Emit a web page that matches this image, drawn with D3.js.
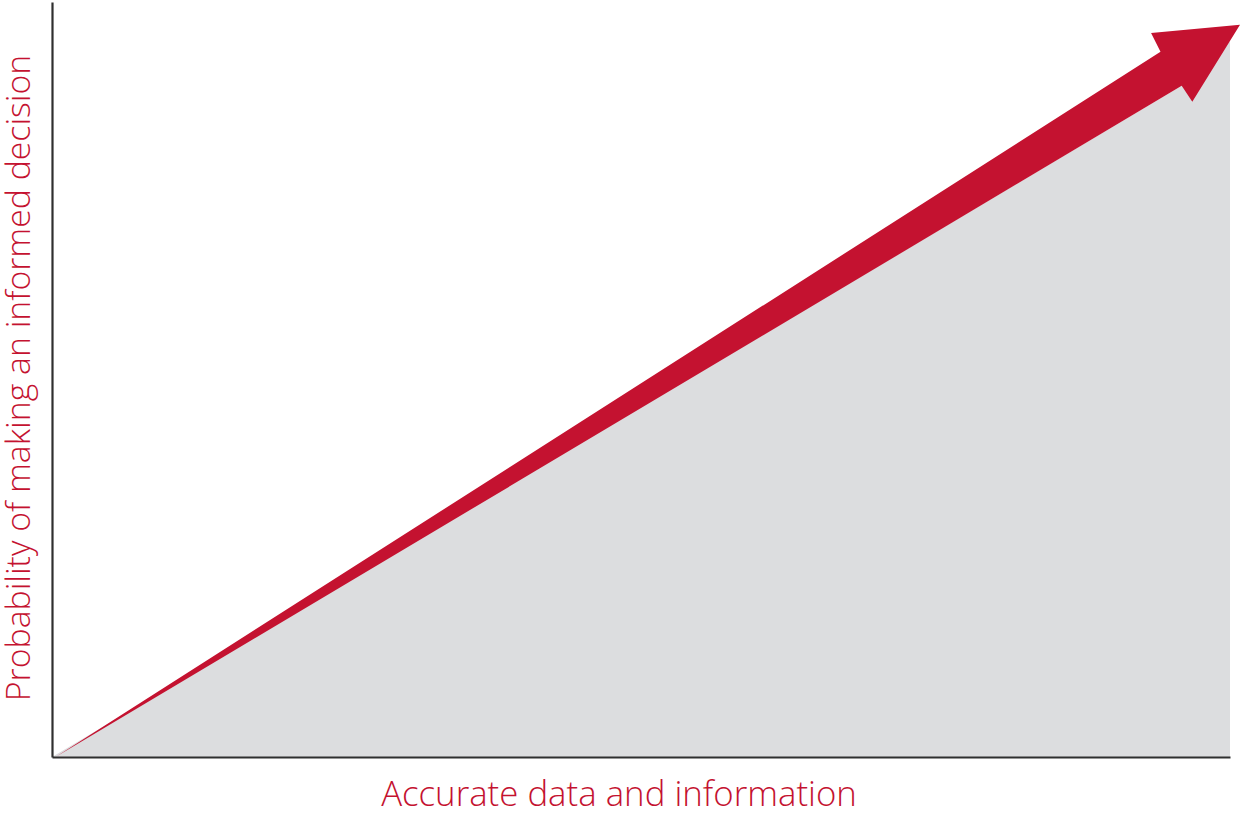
<!DOCTYPE html>
<html>
<head>
<meta charset="utf-8">
<script src="https://cdn.jsdelivr.net/npm/d3@7"></script>
<style>
  html, body { margin: 0; padding: 0; background: #ffffff; }
  svg { display: block; }
</style>
</head>
<body>
<svg id="chart" width="1241" height="814"></svg>
<script>
// Axis titles
const xTitle = "Accurate data and information";
const yTitle = "Probability of making an informed decision";

// Outline of the rising trend arrow (x = data/information, y = probability, 0–100)
const arrowX = [0.3, 94.1, 93.3, 100.85, 96.8, 95.9, 0.3];
const arrowY = [0.0, 93.4, 95.9, 97.0, 86.8, 88.9, 0.0];

// Shaded region beneath the arrow
const areaX = [0, 95.9, 100, 100, 0];
const areaY = [0, 88.9, 94.8, 0, 0];

const red = "#c41230";
const grey = "#dcdddf";

const svg = d3.select("#chart");
const x = d3.scaleLinear().domain([0, 100]).range([52, 1230]);
const y = d3.scaleLinear().domain([0, 100]).range([757, 2]);

const line = d3.line().x(d => x(d[0])).y(d => y(d[1]));

svg.append("path")
  .datum(d3.zip(areaX, areaY))
  .attr("d", line)
  .attr("fill", grey);

svg.append("path")
  .datum(d3.zip(arrowX, arrowY))
  .attr("d", line)
  .attr("fill", red);

// Bare axes: domain lines only
const xAxis = svg.append("g")
  .attr("transform", `translate(0,${y(0)})`)
  .call(d3.axisBottom(x).ticks(0).tickSizeOuter(0));
const yAxis = svg.append("g")
  .attr("transform", `translate(${x(0)},0)`)
  .call(d3.axisLeft(y).ticks(0).tickSizeOuter(0));
[xAxis, yAxis].forEach(g => g.select(".domain")
  .attr("stroke", "#2f2f2f").attr("stroke-width", 2.2));

svg.append("text")
  .attr("x", 619).attr("y", 806)
  .attr("text-anchor", "middle")
  .attr("fill", red)
  .style("font-family", "'Open Sans', sans-serif")
  .style("font-weight", 300)
  .style("font-size", "34.8px")
  .text(xTitle);

svg.append("text")
  .attr("transform", "translate(30,378) rotate(-90)")
  .attr("text-anchor", "middle")
  .attr("fill", red)
  .style("font-family", "'Open Sans', sans-serif")
  .style("font-weight", 300)
  .style("font-size", "33.8px")
  .text(yTitle);
</script>
</body>
</html>
